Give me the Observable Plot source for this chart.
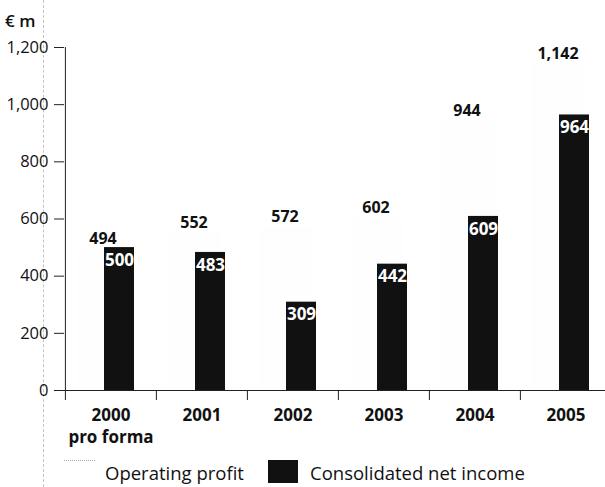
<!DOCTYPE html>
<html><head><meta charset="utf-8">
<script src="https://cdn.jsdelivr.net/npm/d3@7"></script>
<script src="https://cdn.jsdelivr.net/npm/@observablehq/plot@0.6"></script>
<style>
body{margin:0;background:#fff;font-family:"Open Sans",sans-serif;color:#111;}
#wrap{position:relative;width:605px;height:487px;overflow:hidden;background:#fff;}
#chart{position:absolute;left:0;top:0;}
#unit{position:absolute;left:5px;top:10px;font-size:17px;font-weight:600;line-height:22px;}
#scan{position:absolute;left:43px;top:0;height:487px;border-left:1px dashed #c4c4c4;}
.leg{position:absolute;font-size:18.5px;line-height:22px;top:462px;}
.sw{position:absolute;top:460px;height:23px;}
</style></head><body>
<div id="wrap">
  <div id="scan"></div>
  <div id="chart"></div>
  <div id="unit">€ m</div>
  <div class="sw" style="left:64px;width:31px;background:#fff;border-top:1px dotted #aaa;"></div>
  <div class="leg" style="left:105px;">Operating profit</div>
  <div class="sw" style="left:268px;width:30px;background:#111;"></div>
  <div class="leg" style="left:310px;">Consolidated net income</div>
</div>
<script>
const years = ["2000", "2001", "2002", "2003", "2004", "2005"];
const yearLabels = ["2000\npro forma", "2001", "2002", "2003", "2004", "2005"];
const operatingProfit = [494, 552, 572, 602, 944, 1142];
const netIncome = [500, 483, 309, 442, 609, 964];
const yTicks = [0, 200, 400, 600, 800, 1000, 1200];

const data = years.map((y, i) => ({year: y, op: operatingProfit[i], ni: netIncome[i]}));
const fmt = d3.format(",");

const chart = Plot.plot({
  width: 605, height: 445,
  marginTop: 47, marginBottom: 55, marginLeft: 64, marginRight: 0,
  style: {fontFamily: "'Open Sans', sans-serif", color: "#111", background: "transparent", overflow: "visible"},
  x: {domain: years, range: [64, 611], padding: 0},
  y: {domain: [0, 1200]},
  marks: [
    Plot.barY(data, {x: "year", y: "op", fill: "#fefefe", insetLeft: 12, insetRight: 26}),
    Plot.barY(data, {x: "year", y: "ni", fill: "#111", insetLeft: 39, insetRight: 22}),
    Plot.text(data, {x: "year", y: "op", text: d => fmt(d.op), dx: -8, dy: -5, lineAnchor: "bottom", fontWeight: "bold", fontSize: 16, fill: "#111"}),
    Plot.text(data, {x: "year", y: "ni", text: d => String(d.ni), dx: 8.5, dy: 6, lineAnchor: "top", fill: "white", fontWeight: "bold", fontSize: 17}),
    Plot.ruleY([0], {stroke: "#222"}),
    Plot.ruleX([years[0]], {dx: -45.6, stroke: "#222"}),
    Plot.axisY({ticks: yTicks, tickSize: 10, tickPadding: 6, tickFormat: fmt, fontSize: 16.5, label: null, stroke: "#222"}),
    Plot.axisX({tickSize: 10, dx: -45.6, tickFormat: () => "", label: null, stroke: "#222"}),
    Plot.axisX({tickSize: 0, tickPadding: 15, tickFormat: d => yearLabels[years.indexOf(d)], fontWeight: "bold", fontSize: 17, lineHeight: 1.3, label: null})
  ]
});
document.getElementById("chart").appendChild(chart);
</script>
</body></html>
